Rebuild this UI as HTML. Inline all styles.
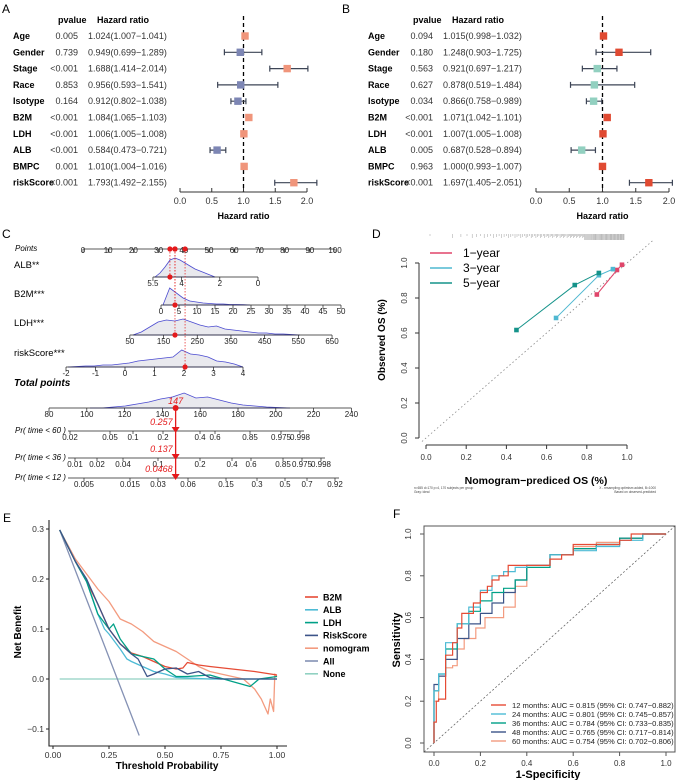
<!DOCTYPE html>
<html><head><meta charset="utf-8"><style>
html,body{margin:0;padding:0;background:#fff;}
svg{display:block;font-family:"Liberation Sans",Arial,sans-serif;}
</style></head><body>
<svg id="fig" width="676" height="780" viewBox="0 0 676 780" xmlns="http://www.w3.org/2000/svg">
<text x="2" y="13" font-size="12">A</text>
<text x="342" y="13" font-size="12">B</text>
<text x="2" y="238" font-size="12">C</text>
<text x="372" y="238" font-size="12">D</text>
<text x="3" y="522" font-size="12">E</text>
<text x="393" y="518" font-size="12">F</text>
</svg>
<script>
const NS='http://www.w3.org/2000/svg';
const svg=document.getElementById('fig');
function mk(tag,attrs,parent){const e=document.createElementNS(NS,tag);for(const k in attrs)e.setAttribute(k,attrs[k]);(parent||svg).appendChild(e);return e;}
function tx(x,y,s,attrs){const e=mk('text',Object.assign({x:x,y:y},attrs||{}));e.textContent=s;return e;}

// ---------- Forest plot data ----------
const forestVars=['Age','Gender','Stage','Race','Isotype','B2M','LDH','ALB','BMPC','riskScore'];
const aP=['0.005','0.739','<0.001','0.853','0.164','<0.001','<0.001','<0.001','0.001','<0.001'];
const aHR=[1.024,0.949,1.688,0.956,0.912,1.084,1.006,0.584,1.010,1.793];
const aLo=[1.007,0.699,1.414,0.593,0.802,1.065,1.005,0.473,1.004,1.492];
const aHi=[1.041,1.289,2.014,1.541,1.038,1.103,1.008,0.721,1.016,2.155];
const bP=['0.094','0.180','0.563','0.627','0.034','<0.001','<0.001','0.005','0.963','<0.001'];
const bHR=[1.015,1.248,0.921,0.878,0.866,1.071,1.007,0.687,1.000,1.697];
const bLo=[0.998,0.903,0.697,0.519,0.758,1.042,1.005,0.528,0.993,1.405];
const bHi=[1.032,1.725,1.217,1.484,0.989,1.101,1.008,0.894,1.007,2.051];
const hrTicks=[0,0.5,1,1.5,2];

function forest(ox,x0,scale,P,HR,LO,HI,cUp,cDn,tag){
  const X=v=>x0+v*scale;
  const Y=i=>36+i*16.3;
  let t=tx(ox+58,23,'pvalue',{'font-size':9,'font-weight':'bold'});
  
  
  t=tx(ox+97,23,'Hazard ratio',{'font-size':9,'font-weight':'bold'});
  
  
  const d=mk('line',{x1:X(1),x2:X(1),y1:16,y2:192,stroke:'#000','stroke-width':1.3,'stroke-dasharray':'4,3'});
  
  
  forestVars.forEach((v,i)=>{
    const y=Y(i);
    let a=tx(ox+13,y+3,v,{'font-size':9,'font-weight':'bold'});
    
    
    a=tx(ox+78,y+3,P[i],{'font-size':9,'text-anchor':'end',fill:'#333'});
    
    
    a=tx(ox+88,y+3,HR[i].toFixed(3)+'('+LO[i].toFixed(3)+'\u2212'+HI[i].toFixed(3)+')',{'font-size':9,fill:'#333'});
    
    
    const w=mk('path',{d:`M${X(LO[i])},${y}H${X(HI[i])}M${X(LO[i])},${y-3}V${y+3}M${X(HI[i])},${y-3}V${y+3}`,stroke:'#3d4556','stroke-width':1.2,fill:'none'});
    
    
    const r=mk('rect',{x:X(HR[i])-3.7,y:y-3.7,width:7.4,height:7.4,fill:HR[i]>=1?cUp:cDn});
    
    
  });
  const ax=mk('path',{d:`M${X(0)},192H${X(2)}`,stroke:'#333','stroke-width':1});
  
  
  hrTicks.forEach(v=>{
    const k=mk('line',{x1:X(v),x2:X(v),y1:188,y2:192,stroke:'#333'});
    
    
    const l=tx(X(v),204,v.toFixed(1),{'font-size':9,'text-anchor':'middle',fill:'#333'});
    
    
  });
  const tt=tx(X(1),219,'Hazard ratio',{'font-size':9,'font-weight':'bold','text-anchor':'middle'});
  
  
}
forest(0,180,63.5,aP,aHR,aLo,aHi,'#f0957b','#7d86b4','forest-a');
forest(355,536,66.5,bP,bHR,bLo,bHi,'#e04a32','#92d0c0','forest-b');

// ---------- Nomogram (C) ----------
const pointsTicks=[0,10,20,30,40,50,60,70,80,90,100];
const albTicks=[5.5,4,2,0];
const b2mTicks=[0,5,10,15,20,25,30,35,40,45,50];
const ldhTicks=[50,150,250,350,450,550,650];
const rsTicks=[-2,-1,0,1,2,3,4];
const totTicks=[80,100,120,140,160,180,200,220,240];
const albDens=[0,4,10,17,19,17,14,11,8,6,4,2,0];
const b2mDens=[0,17,12,7,4,3,2,1.5,1,1,0.5,0.5,0.3,0];
const ldhDens=[0,3,8,13,15,14,16,13,10,8,9,6,5,4,3,2,2,1,1,0.5,0];
const rsDens=[0,0.5,1,1,2,2,3,4,6,7,8,9,10,17,13,12,10,6,5,3,0];
const totDens=[0,0,1,2,4,6,9,11,15,10,11,8,5,3,2,1,0.5,0];
const pr60Labels=['0.02','0.05','0.1','0.2','0.4','0.6','0.85','0.975','0.998'];
const pr36Labels=['0.01','0.02','0.04','0.1','0.2','0.4','0.6','0.85','0.975','0.998'];
const pr12Labels=['0.005','0.015','0.03','0.06','0.15','0.3','0.5','0.7','0.92'];
const patientPts=[34.5,36.5,36.5,40.5];
const patientTotal=147;
const patientPr=['0.257','0.137','0.0468'];

const Xpts=v=>83+v*2.52, Xalb=v=>258-v*19.1, Xb2m=v=>161+v*3.6, Xldh=v=>113+v*0.337, Xrs=v=>125+v*29.5, Xtot=v=>49+(v-80)*1.89;
const pr60X=[70,110,133,163,200,215,250,281,300];
const pr36X=[75,97,123,158,200,232,251,283,302,321];
const pr12X=[84,130,158,188,226,257,285,307,335];

function nAxis(ticks,fx,y,tag,up,fs){
  const x1=fx(ticks[0]),x2=fx(ticks[ticks.length-1]);
  const l=mk('line',{x1:Math.min(x1,x2),x2:Math.max(x1,x2),y1:y,y2:y,stroke:'#222','stroke-width':0.8});
  
  
  ticks.forEach(v=>{
    const x=fx(v);
    const k=mk('line',{x1:x,x2:x,y1:y,y2:y+4,stroke:'#222','stroke-width':0.7});
    
    
    const t=tx(x,y+9,String(v),{'font-size':fs||8,'text-anchor':'middle',fill:'#222'});
    
    
  });
}
function dens(arr,xa,xb,y,tag){
  const step=(xb-xa)/(arr.length-1);
  let d=`M${xa},${y}`;arr.forEach((h,i)=>{d+=`L${xa+i*step},${y-h}`;});d+=`L${xb},${y}Z`;
  const p=mk('path',{d:d,fill:'#e9e9ee',stroke:'#4a4ad0','stroke-width':0.8});
  
  
}
function lab(x,y,s,tag,extra){const t=tx(x,y,s,Object.assign({'font-size':9.5},extra||{}));}

lab(15,251,'Points','points-label',{'font-size':8,'font-style':'italic'});
(function(){
  const l=mk('line',{x1:Xpts(0),x2:Xpts(100),y1:249,y2:249,stroke:'#222','stroke-width':0.8});
  
  
  pointsTicks.forEach(v=>{
    const k=mk('line',{x1:Xpts(v),x2:Xpts(v),y1:249,y2:253,stroke:'#222','stroke-width':0.7});
    
    
    const t=tx(Xpts(v),253,String(v),{'font-size':8,'text-anchor':'middle',fill:'#222'});
    
    
  });
})();
lab(14,268,'ALB**','alb-label');
dens(albDens,155,215,277,'alb');
nAxis(albTicks,Xalb,277,'alb');
lab(14,297,'B2M***','b2m-label');
dens(b2mDens,163,250,305,'b2m');
nAxis(b2mTicks,Xb2m,305,'b2m');
lab(14,326,'LDH***','ldh-label');
dens(ldhDens,133,300,335,'ldh');
nAxis(ldhTicks,Xldh,335,'ldh');
lab(14,356,'riskScore***','riskscore-label');
dens(rsDens,68,243,367,'riskscore');
nAxis(rsTicks,Xrs,367,'riskscore');
lab(14,386,'Total points','total-points-label',{'font-weight':'bold','font-style':'italic','font-size':10});
dens(totDens,90,290,408,'total-points');
nAxis(totTicks,Xtot,408,'total-points');

function prAxis(labels,xs,y,name,tag){
  lab(15,y+2,name,tag+'-label',{'font-size':8,'font-style':'italic'});
  const l=mk('line',{x1:68,x2:xs[xs.length-1]+4,y1:y,y2:y,stroke:'#222','stroke-width':0.8});
  
  
  labels.forEach((s,i)=>{
    const k=mk('line',{x1:xs[i],x2:xs[i],y1:y,y2:y+3,stroke:'#222','stroke-width':0.7});
    
    
    const t=tx(xs[i],y+9,s,{'font-size':8,'text-anchor':'middle',fill:'#222'});
    
    
  });
}
prAxis(pr60Labels,pr60X,431,'Pr( time < 60 )','pr60');
prAxis(pr36Labels,pr36X,458,'Pr( time < 36 )','pr36');
prAxis(pr12Labels,pr12X,478,'Pr( time < 12 )','pr12');

const rowYs=[277,305,335,367];
patientPts.forEach((p,i)=>{
  const x=Xpts(p);
  const dl=mk('line',{x1:x,x2:x,y1:249,y2:rowYs[i],stroke:'#e41a1c','stroke-width':0.7,'stroke-dasharray':'1.5,1.5'});
  
  
  const c1=mk('circle',{cx:x,cy:249,r:2.6,fill:'#e41a1c'});
  
  
  const c2=mk('circle',{cx:x,cy:rowYs[i],r:2.6,fill:'#e41a1c'});
  
  
});
(function(){
  const x=Xtot(patientTotal);
  const l=mk('line',{x1:x,x2:x,y1:408,y2:478,stroke:'#e41a1c','stroke-width':1.3});
  
  
  const c=mk('circle',{cx:x,cy:408,r:3,fill:'#e41a1c'});
  
  
  const t=tx(x,404,String(patientTotal),{'font-size':9,'font-style':'italic',fill:'#e41a1c','text-anchor':'middle'});
  
  
  [431,458,478].forEach((y,i)=>{
    const tri=mk('path',{d:`M${x-4},${y-4}L${x+4},${y-4}L${x},${y+2}Z`,fill:'#e41a1c'});
    
    
    const v=tx(x-3,y-6,patientPr[i],{'font-size':9,'font-style':'italic',fill:'#e41a1c','text-anchor':'end'});
    
    
  });
})();

// ---------- Calibration (D) ----------
const calYears=['1-year','3-year','5-year'];
const calColors=['#e0456a','#4fb8d1','#15938a'];
const cal1x=[0.85,0.95,0.975], cal1y=[0.82,0.96,0.99];
const cal3x=[0.647,0.86,0.93], cal3y=[0.686,0.93,0.965];
const cal5x=[0.45,0.74,0.86], cal5y=[0.617,0.874,0.943];
const calTicks=[0,0.2,0.4,0.6,0.8,1.0];
const Dx=v=>426+v*201, Dy=v=>438-v*175;
(function(){
  const ya=mk('path',{d:`M419,${Dy(0)}V${Dy(1)}`,stroke:'#333',fill:'none'});
  
  
  const xa=mk('path',{d:`M${Dx(0)},445H${Dx(1)}`,stroke:'#333',fill:'none'});
  
  
  calTicks.forEach(v=>{
    const k=mk('line',{x1:415,x2:419,y1:Dy(v),y2:Dy(v),stroke:'#333'});
    
    
    const t=tx(407,Dy(v),v.toFixed(1),{'font-size':8,'text-anchor':'middle',fill:'#333',transform:`rotate(-90 407 ${Dy(v)})`});
    
    
    const k2=mk('line',{x1:Dx(v),x2:Dx(v),y1:445,y2:449,stroke:'#333'});
    
    
    const t2=tx(Dx(v),460,v.toFixed(1),{'font-size':8,'text-anchor':'middle',fill:'#333'});
    
    
  });
  const diag=mk('line',{x1:Dx(-0.02),y1:Dy(-0.02),x2:Dx(1.13),y2:Dy(1.13),stroke:'#888','stroke-width':0.8,'stroke-dasharray':'1.5,2.5'});
  
  
  let d='';
  for(let i=0;i<120;i++){const f=i/119;const v=0.02+Math.pow(f,0.45)*0.965;const x=Dx(v);const h=f>0.6?6+((i*7)%7):2+((i*5)%3);d+=`M${x.toFixed(1)},234V${234+h}`;}
  const rug=mk('path',{d:d,stroke:'#777','stroke-width':0.35});
  
  
  const t=tx(385,340,'Observed OS (%)',{'font-size':10,'font-weight':'bold','text-anchor':'middle',transform:'rotate(-90 385 340)'});
  
  
  const t2=tx(536,484,'Nomogram\u2212prediced OS (%)',{'font-size':10.5,'font-weight':'bold','text-anchor':'middle'});
  
  
  const s1=tx(414,489,'n=655 d=170 p=4, 170 subjects per group',{'font-size':3.2,fill:'#444'});
  
  
  const s1b=tx(414,493,'Gray: ideal',{'font-size':3.2,fill:'#444'});
  
  
  const s2=tx(656,489,'X - resampling optimism added, B=1000',{'font-size':3.2,fill:'#444','text-anchor':'end'});
  
  
  const s2b=tx(656,493,'Based on observed-predicted',{'font-size':3.2,fill:'#444','text-anchor':'end'});
  
  
})();
[[cal1x,cal1y],[cal3x,cal3y],[cal5x,cal5y]].forEach((s,k)=>{
  const pts=s[0].map((x,i)=>Dx(x)+','+Dy(s[1][i])).join(' ');
  const pl=mk('polyline',{points:pts,fill:'none',stroke:calColors[k],'stroke-width':1});
  
  
  s[0].forEach((x,i)=>{
    const r=mk('rect',{x:Dx(x)-2.3,y:Dy(s[1][i])-2.3,width:4.6,height:4.6,fill:calColors[k]});
    
    
  });
  const ll=mk('line',{x1:430,x2:452,y1:253+k*15,y2:253+k*15,stroke:calColors[k],'stroke-width':1.5});
  
  
  const lt=tx(463,257+k*15,calYears[k].replace('-','\u2212'),{'font-size':12});
  
  
});

// ---------- DCA (E) ----------
const dcaNames=['B2M','ALB','LDH','RiskScore','nomogram','All','None'];
const dcaColors=['#e64b35','#4dbbd5','#00a087','#3c5488','#f39b7f','#8491b4','#91d1c2'];
const dcaThreshB2M=[0.03,0.1,0.15,0.2,0.25,0.3,0.35,0.4,0.45,0.5,0.55,0.58,0.6,0.65,0.7,0.8,0.9,1.0];
const dcaB2M=[0.298,0.235,0.195,0.15,0.1,0.07,0.052,0.045,0.035,0.025,0.02,0.022,0.033,0.028,0.025,0.02,0.015,0.008];
const dcaThreshALB=[0.03,0.1,0.15,0.2,0.23,0.25,0.3,0.33,0.35,0.4,0.45,0.5,0.55,0.6,0.7,0.8,1.0];
const dcaALB=[0.298,0.235,0.195,0.13,0.1,0.09,0.06,0.04,0.035,0.025,0.015,0.01,0.003,0.002,0,0,0];
const dcaThreshLDH=[0.03,0.1,0.15,0.2,0.25,0.27,0.3,0.35,0.4,0.45,0.5,0.55,0.6,0.7,0.8,0.88,0.92,1.0];
const dcaLDH=[0.298,0.235,0.195,0.13,0.1,0.11,0.08,0.05,0.045,0.04,0.02,0.005,0.005,0.008,-0.005,-0.015,0,0.005];
const dcaThreshRS=[0.03,0.1,0.15,0.2,0.25,0.3,0.35,0.38,0.42,0.45,0.5,0.55,0.6,0.65,0.7,0.75,1.0];
const dcaRS=[0.298,0.235,0.2,0.15,0.1,0.07,0.05,0.04,0.005,0.01,0.02,0.022,0.01,0.015,0.003,0,0];
const dcaThreshNom=[0.03,0.1,0.15,0.2,0.25,0.3,0.35,0.4,0.45,0.5,0.55,0.6,0.65,0.7,0.75,0.8,0.85,0.9,0.93,0.96,0.97,0.985,0.99,1.0];
const dcaNom=[0.298,0.24,0.21,0.18,0.155,0.12,0.11,0.095,0.075,0.065,0.055,0.04,0.025,0.015,0.01,0.005,0,-0.02,-0.04,-0.07,-0.04,-0.065,0.01,0.005];
const dcaThreshAll=[0.03,0.385];
const dcaAll=[0.298,-0.113];
const dcaThreshNone=[0.03,1.0];
const dcaNone=[0,0];
const dcaYTicks=[-0.1,0,0.1,0.2,0.3];
const dcaXTicks=[0,0.25,0.5,0.75,1.0];
const Ex=v=>53+v*224, Ey=v=>679-v*500;
(function(){
  const ax=mk('path',{d:`M49,520V746H287`,stroke:'#222',fill:'none','stroke-width':1.1});
  
  
  dcaYTicks.forEach(v=>{
    const k=mk('line',{x1:46,x2:49,y1:Ey(v),y2:Ey(v),stroke:'#222'});
    
    
    const t=tx(44,Ey(v)+3,(v<0?'\u2212':'')+Math.abs(v).toFixed(1),{'font-size':8.5,'text-anchor':'end',fill:'#333'});
    
    
  });
  dcaXTicks.forEach(v=>{
    const k=mk('line',{x1:Ex(v),x2:Ex(v),y1:746,y2:749,stroke:'#222'});
    
    
    const t=tx(Ex(v),758,v.toFixed(2),{'font-size':8.5,'text-anchor':'middle',fill:'#333'});
    
    
  });
  const xt=tx(167,769,'Threshold Probability',{'font-size':10,'font-weight':'bold','text-anchor':'middle'});
  
  
  const yt=tx(21,632,'Net Benefit',{'font-size':10,'font-weight':'bold','text-anchor':'middle',transform:'rotate(-90 21 632)'});
  
  
})();
const dcaSeries=[[dcaThreshNone,dcaNone,6],[dcaThreshAll,dcaAll,5],[dcaThreshNom,dcaNom,4],[dcaThreshB2M,dcaB2M,0],[dcaThreshALB,dcaALB,1],[dcaThreshLDH,dcaLDH,2],[dcaThreshRS,dcaRS,3]];
dcaSeries.forEach(s=>{
  const pts=s[0].map((x,i)=>Ex(x).toFixed(1)+','+Ey(s[1][i]).toFixed(1)).join(' ');
  const pl=mk('polyline',{points:pts,fill:'none',stroke:dcaColors[s[2]],'stroke-width':1.3,'stroke-linejoin':'round'});
  
  
});
dcaNames.forEach((n,i)=>{
  const y=597+i*12.8;
  const l=mk('line',{x1:305,x2:318,y1:y,y2:y,stroke:dcaColors[i],'stroke-width':1.6});
  
  
  const t=tx(323,y+3.3,n,{'font-size':9,'font-weight':'bold'});
  
  
});

// ---------- ROC (F) ----------
const rocLabels=['12 months: AUC = 0.815 (95% CI: 0.747\u22120.882)','24 months: AUC = 0.801 (95% CI: 0.745\u22120.857)','36 months: AUC = 0.784 (95% CI: 0.733\u22120.835)','48 months: AUC = 0.765 (95% CI: 0.717\u22120.814)','60 months: AUC = 0.754 (95% CI: 0.702\u22120.806)'];
const rocColors=['#e64b35','#4dbbd5','#00a087','#3c5488','#f39b7f'];
const roc12x=[0,0.01,0.02,0.03,0.05,0.05,0.08,0.1,0.12,0.13,0.17,0.2,0.23,0.25,0.28,0.32,0.34,0.5,0.55,0.6,0.62,0.8,0.85,0.9,1];
const roc12y=[0,0.1,0.2,0.21,0.21,0.3,0.42,0.48,0.55,0.62,0.62,0.67,0.72,0.75,0.78,0.8,0.85,0.85,0.88,0.9,0.95,0.95,0.97,1.0,1];
const roc24x=[0,0.02,0.05,0.1,0.15,0.2,0.25,0.3,0.35,0.4,0.5,0.6,0.7,0.8,0.9,1];
const roc24y=[0,0.25,0.33,0.48,0.57,0.65,0.73,0.8,0.82,0.84,0.85,0.9,0.92,0.94,0.97,1];
const roc36x=[0,0.02,0.05,0.1,0.15,0.2,0.25,0.3,0.35,0.4,0.5,0.6,0.7,0.8,0.9,1];
const roc36y=[0,0.25,0.33,0.45,0.57,0.63,0.68,0.72,0.74,0.78,0.84,0.9,0.93,0.95,0.98,1];
const roc48x=[0,0.02,0.05,0.1,0.15,0.2,0.25,0.3,0.35,0.4,0.5,0.6,0.7,0.8,0.9,1];
const roc48y=[0,0.28,0.32,0.4,0.5,0.57,0.62,0.67,0.72,0.78,0.85,0.9,0.93,0.95,0.98,1];
const roc60x=[0,0.02,0.05,0.08,0.1,0.13,0.18,0.22,0.3,0.35,0.4,0.5,0.6,0.7,0.8,0.9,1];
const roc60y=[0,0.2,0.32,0.36,0.37,0.45,0.5,0.55,0.6,0.65,0.75,0.85,0.9,0.94,0.96,0.98,1];
const rocTicks=[0,0.2,0.4,0.6,0.8,1.0];
const Fx=v=>434+v*232, Fy=v=>743-v*209;
(function(){
  const box=mk('rect',{x:424,y:526,width:251,height:226,fill:'none',stroke:'#555','stroke-width':1});
  
  
  const dg=mk('line',{x1:424,y1:752,x2:675,y2:526,stroke:'#555','stroke-width':0.7,'stroke-dasharray':'2,2'});
  
  
  rocTicks.forEach(v=>{
    const k=mk('line',{x1:420,x2:424,y1:Fy(v),y2:Fy(v),stroke:'#555'});
    
    
    const t=tx(411,Fy(v),v.toFixed(1),{'font-size':8,'text-anchor':'middle',fill:'#333',transform:`rotate(-90 411 ${Fy(v)})`});
    
    
    const k2=mk('line',{x1:Fx(v),x2:Fx(v),y1:752,y2:756,stroke:'#555'});
    
    
    const t2=tx(Fx(v),766,v.toFixed(1),{'font-size':8,'text-anchor':'middle',fill:'#333'});
    
    
  });
  const xt=tx(548,778,'1-Specificity',{'font-size':11,'font-weight':'bold','text-anchor':'middle'});
  
  
  const yt=tx(400,640,'Sensitivity',{'font-size':11,'font-weight':'bold','text-anchor':'middle',transform:'rotate(-90 400 640)'});
  
  
})();
[[roc60x,roc60y,4],[roc48x,roc48y,3],[roc36x,roc36y,2],[roc24x,roc24y,1],[roc12x,roc12y,0]].forEach(s=>{
  let d='';
  s[0].forEach((x,i)=>{
    if(i===0){d+=`M${Fx(x).toFixed(1)},${Fy(s[1][i]).toFixed(1)}`;}
    else{d+=`V${Fy(s[1][i]).toFixed(1)}H${Fx(x).toFixed(1)}`;}
  });
  const p=mk('path',{d:d,fill:'none',stroke:rocColors[s[2]],'stroke-width':1.2});
  
  
});
rocLabels.forEach((n,i)=>{
  const y=705+i*9;
  const l=mk('line',{x1:491,x2:506,y1:y,y2:y,stroke:rocColors[i],'stroke-width':1.4});
  
  
  const t=tx(512,y+3,n,{'font-size':7.6,fill:'#222'});
  
  
});
</script>
</body></html>
